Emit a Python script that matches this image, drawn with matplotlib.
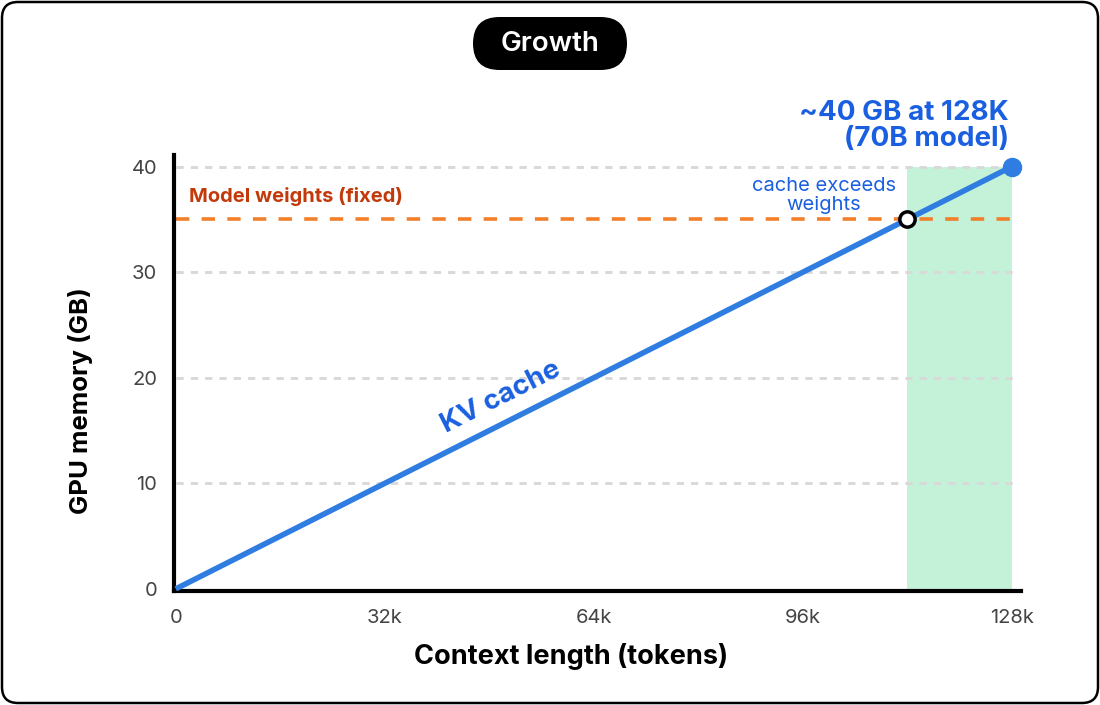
import matplotlib
matplotlib.use("Agg")
import matplotlib.pyplot as plt
from matplotlib.patches import FancyBboxPatch
import numpy as np

plt.rcParams['font.family'] = ['Inter', 'DejaVu Sans']

# data (context in k tokens, memory in GB)
context_k = [0, 128]
kv_cache_gb = [0, 40]
weights_gb = 35
crossover_k = 112
x_ticks = [0, 32, 64, 96, 128]
x_tick_labels = ["0", "32k", "64k", "96k", "128k"]
y_ticks = [0, 10, 20, 30, 40]

blue = "#2f7de1"
text_blue = "#1a5fe0"
orange = "#f27f2a"
dark_orange = "#c23a0a"

W, H = 1100, 705
fig = plt.figure(figsize=(W / 100, H / 100), dpi=100)
ax = fig.add_axes([0.158, 0.1617, 0.770, 0.6183])

# outer rounded border
border = FancyBboxPatch((2 / W, 2 / H), 1 - 4 / W, 1 - 4 / H,
                        boxstyle="round,pad=0,rounding_size=%f" % (16 / W),
                        mutation_aspect=W / H,
                        transform=fig.transFigure, fill=False,
                        edgecolor="black", linewidth=1.8)
fig.patches.append(border)

# title pill
pill = FancyBboxPatch((473 / W, 1 - 70 / H), 154 / W, 53 / H,
                      boxstyle="round,pad=0,rounding_size=%f" % (26.5 / W),
                      mutation_aspect=W / H,
                      transform=fig.transFigure, facecolor="black",
                      edgecolor="none")
fig.patches.append(pill)
fig.text(0.5, 1 - 44 / H, "Growth", ha="center", va="center", fontsize=20,
         fontweight="semibold", color="white")

ax.set_xlim(-0.3, 129.4)
ax.set_ylim(-0.2, 41.1)

for y in y_ticks[1:]:
    ax.plot([0, 128.6], [y, y], color="#d9d9d9", linestyle=(0, (2.5, 2.4)),
            linewidth=2.1, zorder=1)

# region where cache exceeds weights
ax.fill_between([crossover_k, context_k[1]], 0, kv_cache_gb[1],
                color="#c3f2d9", linewidth=0, zorder=0)

ax.plot([0, context_k[1]], [weights_gb, weights_gb], color=orange,
        linestyle=(0, (3.7, 3.4)), linewidth=2.6, zorder=2)
ax.text(2.0, 37.15, "Model weights (fixed)", color=dark_orange,
        fontsize=14.5, fontweight="bold", va="center", ha="left")

ax.plot(context_k, kv_cache_gb, color=blue, linewidth=4,
        solid_capstyle="butt", zorder=3)
ax.plot(context_k[1], kv_cache_gb[1], "o", markersize=13, color=blue,
        zorder=4, clip_on=False)
ax.plot(crossover_k, weights_gb, "o", markersize=11, markerfacecolor="white",
        markeredgecolor="black", markeredgewidth=2.5, zorder=5)

ax.text(49.8, 18.1, "KV cache", color=text_blue, fontsize=20,
        fontweight="bold", rotation=26.8,
        ha="center", va="center", rotation_mode="anchor")
ax.text(99.2, 37.3, "cache exceeds\nweights", color=text_blue,
        fontsize=14.5, ha="center", va="center", linespacing=1.1)
ax.text(127.6, 43.85, "~40 GB at 128K\n(70B model)", color=text_blue,
        fontsize=20, fontweight="bold", ha="right", va="center",
        linespacing=1.0)

ax.set_xticks(x_ticks)
ax.set_xticklabels(x_tick_labels)
ax.set_yticks(y_ticks)
ax.tick_params(length=0, labelsize=14.5, labelcolor="#444444")
ax.tick_params(axis="x", pad=13)
ax.tick_params(axis="y", pad=12)

for side in ["top", "right"]:
    ax.spines[side].set_visible(False)
for side in ["left", "bottom"]:
    ax.spines[side].set_linewidth(3)
    ax.spines[side].set_color("black")

ax.set_xlabel("Context length (tokens)", fontsize=19.5, fontweight="bold")
ax.set_ylabel("GPU memory (GB)", fontsize=18.5, fontweight="bold")
ax.xaxis.set_label_coords(0.469, -0.119)
ax.yaxis.set_label_coords(-0.0956, 0.438)

fig.savefig("out.png", dpi=100)
